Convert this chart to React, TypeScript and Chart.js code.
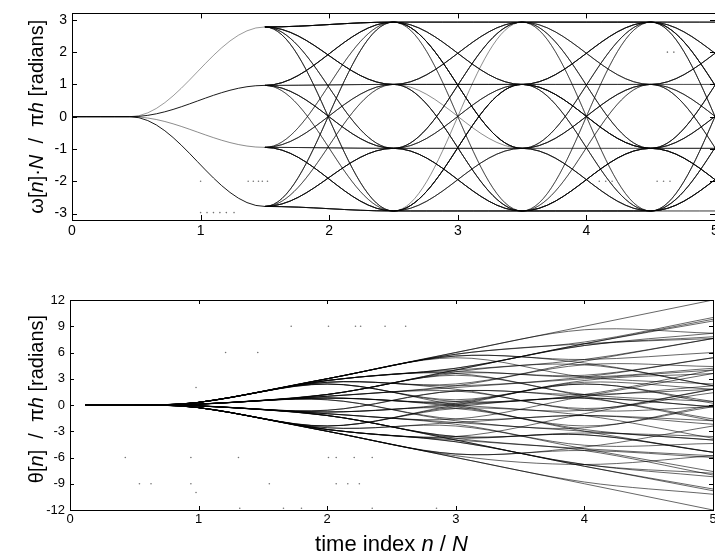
import React, { useEffect, useRef } from "react";
import { Chart, registerables } from "chart.js";

Chart.register(...registerables);

// ---- axes ----
const X_TICKS = [0, 1, 2, 3, 4, 5];
const FREQ_TICKS = [-3, -2, -1, 0, 1, 2, 3];
const PHASE_TICKS = [-12, -9, -6, -3, 0, 3, 6, 9, 12];

// ---- 4-ary symbol sequences (one sample path each) ----
const SYMBOLS: number[][] = [
  [3, 3, 3, 3, 3], [-3, -3, -3, -3, -3], [3, 3, 3, -1, 1], [3, 3, 1, 1, -3],
  [3, 3, -1, -3, -1], [3, 1, 3, 3, 1], [3, 1, -1, 1, 3], [3, -1, -3, 1, -1],
  [3, -3, 3, -1, -3], [3, -1, 1, 3, -3], [1, 3, 3, 1, -1], [1, 3, -3, -1, 3],
  [1, 1, 1, 1, 1], [1, -1, 3, -3, 1], [1, -3, -1, 3, 3], [1, -1, -1, -3, -1],
  [1, 1, -3, 3, -3], [-1, 1, 3, 1, -3], [-1, -1, -1, -1, -1], [-1, 3, -1, -3, 1],
  [-1, -3, 1, -1, 3], [-1, -3, -3, -1, 1], [-1, 1, -3, -3, 3], [-1, -1, 3, 3, -1],
  [-3, -3, -1, 1, 3], [-3, -1, -3, -3, -1], [-3, -3, -3, -1, -3], [-3, 1, 1, -1, -3],
  [-3, 3, -1, 3, 1], [-3, -1, 1, -3, 3], [3, 3, -3, -1, 3], [-3, -3, 1, 3, -1],
  [3, 1, 1, -3, -1], [-1, -3, -1, -3, -3], [1, 3, 1, 3, -1], [3, 3, 1, 3, 3],
  [-3, -1, -1, -1, 1], [1, -1, 1, -1, -3], [3, -3, -3, 3, 1], [-3, 3, 3, -3, -1],
  [3, 1, 3, 1, 3], [-3, -1, -3, -1, -3], [1, 3, 3, 3, -1], [-1, -3, -3, -3, 1],
  [3, 3, -1, 1, 1], [-3, -3, 1, -1, -1], [1, 1, 3, -1, 3], [-1, -1, -3, 1, -3],
  [3, -1, 3, 3, -1], [-3, 1, -3, -3, 1], [1, -3, 1, -1, 1], [-1, 3, -1, 1, -1],
  [3, 1, -3, -3, -1], [-3, -1, 3, 3, 1], [1, 3, -1, 3, -3], [-1, -3, 1, -3, 3],
  [3, -3, 1, 1, 3], [-1, 1, 1, 3, 3], [1, -1, -3, -1, -1], [-3, 3, 1, -1, -3],
];

// ---- frequency panel: knot times and settled levels ----
const LEAD_KNOTS = [0, 0.45, 1.5];
const LEAD_LEVELS = [2.78, 0.97, -0.95, -2.78];
const LEAD_COLORS = ["rgba(0,0,0,0.4)", "rgba(0,0,0,0.9)", "rgba(0,0,0,0.45)", "rgba(0,0,0,0.9)"];
const FREQ_KNOTS = [1.5, 2.5, 3.5, 4.5, 5.5];
const LEVEL_FIRST: Record<string, number> = { "3": 2.78, "1": 0.97, "-1": -0.95, "-3": -2.78 };
const LEVEL: Record<string, number> = { "3": 2.93, "1": 1.0, "-1": -0.98, "-3": -2.92 };

// isolated samples scattered in the frequency panel
const FREQ_DOTS_X = [1.0, 1.37, 1.41, 1.45, 1.48, 1.52, 1.0, 1.05, 1.1, 1.15, 1.2, 1.26, 4.1, 4.15, 4.2, 4.55, 4.6, 4.65, 4.63, 4.68];
const FREQ_DOTS_Y = [-2, -2, -2, -2, -2, -2, -2.97, -2.97, -2.97, -2.97, -2.97, -2.97, -2, -2, -2, -2, -2, -2, 2, 2];

// ---- phase panel: phase at n/N = 1, 2, 3, 4, 5 for each path ----
const PHASE_LEAD_X = [0.12, 0.5];
const PHASE_KNOTS = [1, 2, 3, 4, 5];
const PHASE: number[][] = [
  [0.3, 3, 6, 9, 12], [-0.3, -3, -6, -9, -12], [0.3, 3, 6, 8.6, 8.2], [0.3, 3, 5.8, 7, 7.6],
  [0.3, 3, 5.6, 4.8, 2.2], [0.3, 2.8, 4.2, 7, 9.8], [0.3, 2.8, 3.8, 3.2, 4.2], [0.3, 2.6, 1.8, -0.6, -0.2],
  [0.3, 2.4, 0.6, 2.6, 1.8], [0.3, 2.6, 2.2, 3.2, 5.4], [0.1, 1.2, 4, 6.8, 7.8], [0.1, 1.2, 3.4, 1.2, 0.4],
  [0.1, 1, 2, 3, 4], [0.1, 0.8, 0.4, 2.4, 0.4], [0.1, 0.6, -1.8, -2.6, 0], [0.1, 0.8, 0, -1.2, -3.8],
  [0.1, 1, 1.6, -0.4, 1.4], [-0.1, -0.8, 0.2, 2.8, 3.6], [-0.1, -1, -2, -3, -4], [-0.1, -0.6, 1.6, 0.8, -1.6],
  [-0.1, -1.2, -3.6, -3.2, -3.6], [-0.1, -1.2, -4, -6.8, -7.8], [-0.1, -0.8, -0.4, -3, -5.4], [-0.1, -1, -1.6, 1, 3.6],
  [-0.3, -3, -5.8, -6.8, -5.8], [-0.3, -2.8, -4.2, -7, -9.8], [-0.3, -3, -6, -8.8, -10.2], [-0.3, -2.6, -2, -1.2, -2.2],
  [-0.3, -2.4, -0.4, -0.6, 1.8], [-0.3, -2.8, -3.8, -3.4, -5.4], [0.3, 3, 5.4, 3.2, 2.4], [-0.3, -3, -5.6, -4.8, -2.4],
  [0.3, 2.8, 4, 4.6, 2.2], [-0.1, -1.2, -3.8, -5.2, -8], [0.1, 1.2, 3.8, 5.2, 7.6], [0.3, 3, 5.8, 7.2, 10],
  [-0.3, -2.8, -4, -5, -5.8], [0.1, 0.8, 0.2, 0.8, -0.2], [0.3, 2.4, 0, -2.4, -0.2], [-0.3, -2.4, 0, 2.4, 0.2],
  [0.3, 2.8, 4.2, 6.8, 8.2], [-0.3, -2.8, -4.2, -6.8, -8.2], [0.1, 1.2, 4, 7, 9.6], [-0.1, -1.2, -4, -7, -9.6],
  [0.3, 3, 5.6, 5.2, 6], [-0.3, -3, -5.6, -5.2, -6], [0.1, 1, 2.2, 4.6, 4.4], [-0.1, -1, -2.2, -4.6, -4.4],
  [0.3, 2.6, 2.4, 5, 7.6], [-0.3, -2.6, -2.4, -5, -7.6], [0.1, 0.6, -1.6, -1.2, -1.8], [-0.1, -0.6, 1.6, 1.2, 1.8],
  [0.3, 2.8, 3.6, 1, -1.8], [-0.3, -2.8, -3.6, -1, 1.8], [0.1, 1.2, 3.6, 3.4, 5.4], [-0.1, -1.2, -3.6, -3.4, -5.4],
  [0.3, 2.4, 0.4, 1, 2.2], [-0.1, -0.8, 0, 1.2, 4], [0.1, 0.8, -0.2, -2.8, -4], [-0.3, -2.4, -0.2, 0.8, -0.2],
];

// isolated samples scattered in the phase panel
const PHASE_DOTS_X = [0.43, 0.94, 0.54, 0.63, 0.94, 0.98, 0.98, 1.21, 1.72, 2.01, 2.22, 2.26, 2.45, 2.61, 1.46,
  1.31, 2.01, 2.07, 2.21, 2.35, 1.55, 2.07, 2.16, 2.25, 1.32, 1.66, 1.8, 2.35, 2.85];
const PHASE_DOTS_Y = [-6, -6, -9, -9, -9, -10, 2, 6, 9, 9, 9, 9, 9, 9, 6,
  -6, -6, -6, -6, -6, -9, -9, -9, -9, -11.8, -11.8, -11.8, -11.8, -11.8];

type Seg = { t: string; it?: boolean };
const FREQ_TITLE: Seg[] = [
  { t: "ω[" }, { t: "n", it: true }, { t: "]·" }, { t: "N", it: true },
  { t: "  /  π" }, { t: "h", it: true }, { t: " [radians]" },
];
const PHASE_TITLE: Seg[] = [
  { t: "θ[" }, { t: "n", it: true }, { t: "]  /  π" }, { t: "h", it: true }, { t: " [radians]" },
];
const TIME_TITLE: Seg[] = [
  { t: "time index " }, { t: "n", it: true }, { t: " / " }, { t: "N", it: true },
];

const FONT = '"Liberation Sans", Arial, Helvetica, sans-serif';
const CW = 740;

function drawSegs(ctx: CanvasRenderingContext2D, segs: Seg[], cx: number, cy: number, size: number, rotate: boolean) {
  ctx.save();
  ctx.translate(cx, cy);
  if (rotate) ctx.rotate(-Math.PI / 2);
  const f = (it?: boolean) => `${it ? "italic " : ""}${size}px ${FONT}`;
  let total = 0;
  for (const s of segs) {
    ctx.font = f(s.it);
    total += ctx.measureText(s.t).width;
  }
  let x = -total / 2;
  ctx.textBaseline = "middle";
  ctx.textAlign = "left";
  ctx.fillStyle = "#000";
  for (const s of segs) {
    ctx.font = f(s.it);
    ctx.fillText(s.t, x, 0);
    x += ctx.measureText(s.t).width;
  }
  ctx.restore();
}

// Box around the plot area with MATLAB-style inward tick marks
function framePlugin(tickLen: number) {
  return {
    id: "frame",
    afterDatasetsDraw(chart: any) {
      const { ctx, chartArea: a, scales } = chart;
      ctx.save();
      ctx.strokeStyle = "#000";
      ctx.lineWidth = 1;
      ctx.strokeRect(Math.round(a.left) + 0.5, Math.round(a.top) + 0.5, Math.round(a.right - a.left), Math.round(a.bottom - a.top));
      ctx.beginPath();
      scales.x.ticks.forEach((t: any) => {
        const px = Math.round(scales.x.getPixelForValue(t.value)) + 0.5;
        ctx.moveTo(px, a.bottom);
        ctx.lineTo(px, a.bottom - tickLen);
        ctx.moveTo(px, a.top);
        ctx.lineTo(px, a.top + tickLen);
      });
      scales.y.ticks.forEach((t: any) => {
        const py = Math.round(scales.y.getPixelForValue(t.value)) + 0.5;
        ctx.moveTo(a.left, py);
        ctx.lineTo(a.left + tickLen, py);
        ctx.moveTo(a.right, py);
        ctx.lineTo(a.right - tickLen, py);
      });
      ctx.stroke();
      ctx.restore();
    },
  };
}

// Curve shaping between knots:
//  "flat"    – zero slope at every knot (raised-cosine frequency transitions)
//  "catmull" – central-difference slopes, flat where the path is still at rest
const COS_K = 0.3642;
function shapePlugin(mode: "flat" | "catmull") {
  return {
    id: "shape-" + mode,
    beforeDatasetsDraw(chart: any) {
      chart.data.datasets.forEach((ds: any, i: number) => {
        if (ds.showLine === false) return;
        const meta = chart.getDatasetMeta(i);
        if (!meta.dataset) return;
        const pts = meta.data;
        for (let j = 0; j < pts.length; j++) {
          const p = pts[j];
          const prev = pts[j - 1];
          const next = pts[j + 1];
          if (mode === "flat") {
            p.cp1x = prev ? p.x - (p.x - prev.x) * COS_K : p.x;
            p.cp1y = p.y;
            p.cp2x = next ? p.x + (next.x - p.x) * COS_K : p.x;
            p.cp2y = p.y;
          } else {
            let m = 0;
            if (prev && prev.y !== p.y) {
              m = next ? (next.y - prev.y) / (next.x - prev.x) : (p.y - prev.y) / (p.x - prev.x);
            }
            const dl = prev ? (p.x - prev.x) / 3 : 0;
            const dr = next ? (next.x - p.x) / 3 : 0;
            p.cp1x = p.x - dl;
            p.cp1y = p.y - m * dl;
            p.cp2x = p.x + dr;
            p.cp2y = p.y + m * dr;
          }
        }
        meta.dataset._pointsUpdated = true;
        meta.dataset._path = undefined;
      });
    },
  };
}

function axisTicks(values: number[]) {
  return (scale: any) => {
    scale.ticks = values.map((v) => ({ value: v }));
  };
}

function tickFont(size: number) {
  return { color: "#000", font: { family: FONT, size }, callback: (v: any) => String(v) };
}

function dotSet(xs: number[], ys: number[]) {
  return {
    data: xs.map((x, i) => ({ x, y: ys[i] })),
    showLine: false,
    pointRadius: 0.8,
    pointBorderWidth: 0,
    pointBackgroundColor: "rgba(0,0,0,0.55)",
    borderColor: "transparent",
  };
}

export default function App() {
  const topRef = useRef<HTMLCanvasElement>(null);
  const botRef = useRef<HTMLCanvasElement>(null);

  useEffect(() => {
    const leadSets = LEAD_LEVELS.map((lv, k) => ({
      data: LEAD_KNOTS.map((x, j) => ({ x, y: j < 2 ? 0 : lv })),
      borderColor: LEAD_COLORS[k],
      borderWidth: 1,
      pointRadius: 0,
      tension: 0.4,
      fill: false,
    }));
    const freqSets = SYMBOLS.map((row) => ({
      data: FREQ_KNOTS.map((x, j) => ({
        x,
        y: j === 0 ? LEVEL_FIRST[String(row[0])] : LEVEL[String(row[j])],
      })),
      borderColor: "rgba(0,0,0,0.45)",
      borderWidth: 1,
      pointRadius: 0,
      tension: 0.4,
      fill: false,
    }));

    const top = new Chart(topRef.current!, {
      type: "line",
      data: { datasets: [...leadSets, ...freqSets, dotSet(FREQ_DOTS_X, FREQ_DOTS_Y)] as any },
      options: {
        animation: false,
        responsive: false,
        devicePixelRatio: 1,
        events: [],
        layout: { padding: { left: 0, top: 7, right: CW - 715, bottom: 0 } },
        plugins: { legend: { display: false }, tooltip: { enabled: false } },
        scales: {
          x: {
            type: "linear",
            min: 0,
            max: 5,
            afterBuildTicks: axisTicks(X_TICKS),
            afterFit: (s: any) => { s.height = 30; },
            grid: { display: false, drawTicks: false },
            border: { display: false },
            ticks: { ...tickFont(14), padding: 3 },
          },
          y: {
            type: "linear",
            min: -3.2,
            max: 3.2,
            afterBuildTicks: axisTicks(FREQ_TICKS),
            afterFit: (s: any) => { s.width = 72; },
            grid: { display: false, drawTicks: false },
            border: { display: false },
            ticks: { ...tickFont(14), padding: 5 },
          },
        },
      },
      plugins: [
        shapePlugin("flat"),
        framePlugin(5),
        {
          id: "titles",
          afterDraw(chart: any) {
            const a = chart.chartArea;
            drawSegs(chart.ctx, FREQ_TITLE, 37, (a.top + a.bottom) / 2, 20, true);
          },
        },
      ],
    });

    const phaseSets = PHASE.map((row) => ({
      data: [
        ...PHASE_LEAD_X.map((x) => ({ x, y: 0 })),
        ...PHASE_KNOTS.map((x, j) => ({ x, y: row[j] })),
      ],
      borderColor: "rgba(0,0,0,0.6)",
      borderWidth: 1,
      pointRadius: 0,
      tension: 0.4,
      fill: false,
    }));

    const bot = new Chart(botRef.current!, {
      type: "line",
      data: { datasets: [...phaseSets, dotSet(PHASE_DOTS_X, PHASE_DOTS_Y)] as any },
      options: {
        animation: false,
        responsive: false,
        devicePixelRatio: 1,
        events: [],
        layout: { padding: { left: 0, top: 25, right: CW - 713, bottom: 0 } },
        plugins: { legend: { display: false }, tooltip: { enabled: false } },
        scales: {
          x: {
            type: "linear",
            min: 0,
            max: 5,
            afterBuildTicks: axisTicks(X_TICKS),
            afterFit: (s: any) => { s.height = 48; },
            grid: { display: false, drawTicks: false },
            border: { display: false },
            ticks: { ...tickFont(13), padding: 2 },
          },
          y: {
            type: "linear",
            min: -12,
            max: 12,
            afterBuildTicks: axisTicks(PHASE_TICKS),
            afterFit: (s: any) => { s.width = 70; },
            grid: { display: false, drawTicks: false },
            border: { display: false },
            ticks: { ...tickFont(13), padding: 5 },
          },
        },
      },
      plugins: [
        shapePlugin("catmull"),
        framePlugin(4),
        {
          id: "titles",
          afterDraw(chart: any) {
            const a = chart.chartArea;
            drawSegs(chart.ctx, PHASE_TITLE, 37, (a.top + a.bottom) / 2 - 6, 20, true);
            drawSegs(chart.ctx, TIME_TITLE, (a.left + a.right) / 2, 270, 22, false);
          },
        },
      ],
    });

    return () => {
      top.destroy();
      bot.destroy();
    };
  }, []);

  return (
    <div style={{ position: "fixed", left: 0, top: 0, width: 715, height: 558, overflow: "hidden", background: "#fff" }}>
      <div style={{ position: "absolute", left: 0, top: 0 }}>
        <canvas ref={topRef} width={CW} height={250} style={{ display: "block" }} />
      </div>
      <div style={{ position: "absolute", left: 0, top: 275 }}>
        <canvas ref={botRef} width={CW} height={283} style={{ display: "block" }} />
      </div>
    </div>
  );
}
